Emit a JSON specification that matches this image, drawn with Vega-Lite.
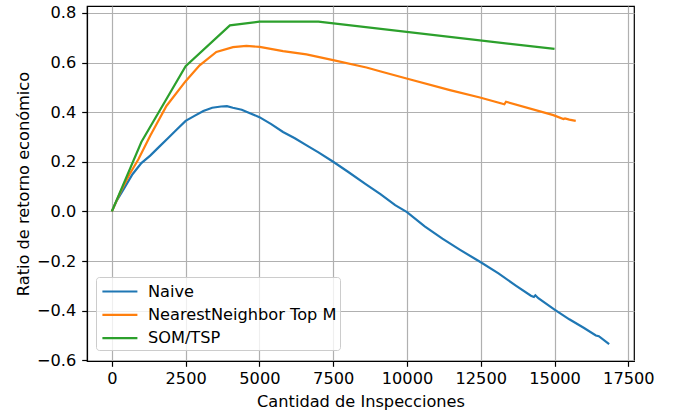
{
  "$schema": "https://vega.github.io/schema/vega-lite/v6.json",
  "width": 547,
  "height": 355,
  "autosize": {"type": "none"},
  "padding": {"left": 87, "top": 6, "right": 40, "bottom": 53},
  "background": "white",
  "config": {
    "font": "DejaVu Sans",
    "view": {"stroke": "black", "strokeWidth": 1.2},
    "axis": {
      "labelFont": "DejaVu Sans", "labelFontSize": 16.2, "labelColor": "black",
      "titleFont": "DejaVu Sans", "titleFontSize": 16.2, "titleFontWeight": "normal", "titleColor": "black",
      "domainColor": "black", "domainWidth": 1.2,
      "tickColor": "black", "tickWidth": 1.2, "tickSize": 5.3,
      "gridColor": "#b0b0b0", "gridWidth": 1.2, "gridOpacity": 1
    }
  },
  "data": {"values": [
    {"x": 0, "y": 0.0, "s": "Naive"},
    {"x": 150, "y": 0.04, "s": "Naive"},
    {"x": 400, "y": 0.09, "s": "Naive"},
    {"x": 700, "y": 0.15, "s": "Naive"},
    {"x": 1000, "y": 0.195, "s": "Naive"},
    {"x": 1300, "y": 0.225, "s": "Naive"},
    {"x": 1600, "y": 0.26, "s": "Naive"},
    {"x": 1900, "y": 0.295, "s": "Naive"},
    {"x": 2200, "y": 0.33, "s": "Naive"},
    {"x": 2500, "y": 0.365, "s": "Naive"},
    {"x": 2800, "y": 0.385, "s": "Naive"},
    {"x": 3100, "y": 0.405, "s": "Naive"},
    {"x": 3400, "y": 0.418, "s": "Naive"},
    {"x": 3700, "y": 0.423, "s": "Naive"},
    {"x": 3900, "y": 0.424, "s": "Naive"},
    {"x": 4100, "y": 0.418, "s": "Naive"},
    {"x": 4400, "y": 0.41, "s": "Naive"},
    {"x": 4700, "y": 0.395, "s": "Naive"},
    {"x": 5000, "y": 0.38, "s": "Naive"},
    {"x": 5400, "y": 0.352, "s": "Naive"},
    {"x": 5800, "y": 0.32, "s": "Naive"},
    {"x": 6200, "y": 0.295, "s": "Naive"},
    {"x": 6600, "y": 0.266, "s": "Naive"},
    {"x": 7000, "y": 0.238, "s": "Naive"},
    {"x": 7500, "y": 0.2, "s": "Naive"},
    {"x": 8000, "y": 0.16, "s": "Naive"},
    {"x": 8600, "y": 0.11, "s": "Naive"},
    {"x": 9100, "y": 0.07, "s": "Naive"},
    {"x": 9600, "y": 0.025, "s": "Naive"},
    {"x": 10000, "y": -0.003, "s": "Naive"},
    {"x": 10600, "y": -0.06, "s": "Naive"},
    {"x": 11200, "y": -0.11, "s": "Naive"},
    {"x": 11800, "y": -0.155, "s": "Naive"},
    {"x": 12500, "y": -0.205, "s": "Naive"},
    {"x": 13100, "y": -0.25, "s": "Naive"},
    {"x": 13700, "y": -0.3, "s": "Naive"},
    {"x": 14200, "y": -0.34, "s": "Naive"},
    {"x": 14300, "y": -0.345, "s": "Naive"},
    {"x": 14350, "y": -0.338, "s": "Naive"},
    {"x": 14450, "y": -0.35, "s": "Naive"},
    {"x": 15000, "y": -0.396, "s": "Naive"},
    {"x": 15500, "y": -0.435, "s": "Naive"},
    {"x": 16000, "y": -0.47, "s": "Naive"},
    {"x": 16400, "y": -0.5, "s": "Naive"},
    {"x": 16500, "y": -0.503, "s": "Naive"},
    {"x": 16850, "y": -0.535, "s": "Naive"},
    {"x": 0, "y": 0.0, "s": "NearestNeighbor Top M"},
    {"x": 300, "y": 0.08, "s": "NearestNeighbor Top M"},
    {"x": 600, "y": 0.15, "s": "NearestNeighbor Top M"},
    {"x": 900, "y": 0.21, "s": "NearestNeighbor Top M"},
    {"x": 1300, "y": 0.305, "s": "NearestNeighbor Top M"},
    {"x": 1850, "y": 0.425, "s": "NearestNeighbor Top M"},
    {"x": 2500, "y": 0.525, "s": "NearestNeighbor Top M"},
    {"x": 2975, "y": 0.589, "s": "NearestNeighbor Top M"},
    {"x": 3541, "y": 0.643, "s": "NearestNeighbor Top M"},
    {"x": 4105, "y": 0.662, "s": "NearestNeighbor Top M"},
    {"x": 4559, "y": 0.667, "s": "NearestNeighbor Top M"},
    {"x": 5010, "y": 0.663, "s": "NearestNeighbor Top M"},
    {"x": 5801, "y": 0.646, "s": "NearestNeighbor Top M"},
    {"x": 6593, "y": 0.633, "s": "NearestNeighbor Top M"},
    {"x": 7497, "y": 0.61, "s": "NearestNeighbor Top M"},
    {"x": 8627, "y": 0.58, "s": "NearestNeighbor Top M"},
    {"x": 9082, "y": 0.565, "s": "NearestNeighbor Top M"},
    {"x": 9986, "y": 0.536, "s": "NearestNeighbor Top M"},
    {"x": 11455, "y": 0.489, "s": "NearestNeighbor Top M"},
    {"x": 12473, "y": 0.459, "s": "NearestNeighbor Top M"},
    {"x": 13300, "y": 0.432, "s": "NearestNeighbor Top M"},
    {"x": 13355, "y": 0.442, "s": "NearestNeighbor Top M"},
    {"x": 14960, "y": 0.388, "s": "NearestNeighbor Top M"},
    {"x": 15300, "y": 0.372, "s": "NearestNeighbor Top M"},
    {"x": 15356, "y": 0.375, "s": "NearestNeighbor Top M"},
    {"x": 15500, "y": 0.37, "s": "NearestNeighbor Top M"},
    {"x": 15718, "y": 0.365, "s": "NearestNeighbor Top M"},
    {"x": 0, "y": 0.0, "s": "SOM/TSP"},
    {"x": 1000, "y": 0.28, "s": "SOM/TSP"},
    {"x": 2500, "y": 0.585, "s": "SOM/TSP"},
    {"x": 4000, "y": 0.75, "s": "SOM/TSP"},
    {"x": 5000, "y": 0.765, "s": "SOM/TSP"},
    {"x": 7000, "y": 0.765, "s": "SOM/TSP"},
    {"x": 15000, "y": 0.655, "s": "SOM/TSP"}
  ]},
  "mark": {"type": "line", "strokeWidth": 2.2, "clip": true},
  "encoding": {
    "x": {
      "field": "x", "type": "quantitative",
      "scale": {"domain": [-842, 17692], "nice": false, "zero": false},
      "axis": {"values": [0, 2500, 5000, 7500, 10000, 12500, 15000, 17500], "format": "d", "title": "Cantidad de Inspecciones", "labelPadding": 4.5, "titlePadding": 6, "grid": true}
    },
    "y": {
      "field": "y", "type": "quantitative",
      "scale": {"domain": [-0.603, 0.828], "nice": false, "zero": false},
      "axis": {"values": [-0.6, -0.4, -0.2, 0, 0.2, 0.4, 0.6, 0.8], "labelExpr": "replace(format(datum.value, '.1f'), '-', '−')", "labelPadding": 6, "title": "Ratio de retorno económico", "titlePadding": 5, "grid": true}
    },
    "color": {
      "field": "s", "type": "nominal",
      "scale": {"domain": ["Naive", "NearestNeighbor Top M", "SOM/TSP"], "range": ["#1f77b4", "#ff7f0e", "#2ca02c"]},
      "legend": {
        "title": null, "orient": "none", "legendX": 9, "legendY": 271,
        "symbolType": "M-1.75,0H1.75", "symbolSize": 400, "symbolStrokeWidth": 2.2, "symbolOffset": 9.4,
        "labelFontSize": 16.2, "labelFont": "DejaVu Sans", "labelColor": "black", "labelOffset": 16.5,
        "rowPadding": 3.3, "padding": 3,
        "fillColor": "rgba(255,255,255,0.8)", "strokeColor": "#cccccc", "cornerRadius": 3,
        "labelLimit": 400
      }
    }
  }
}
